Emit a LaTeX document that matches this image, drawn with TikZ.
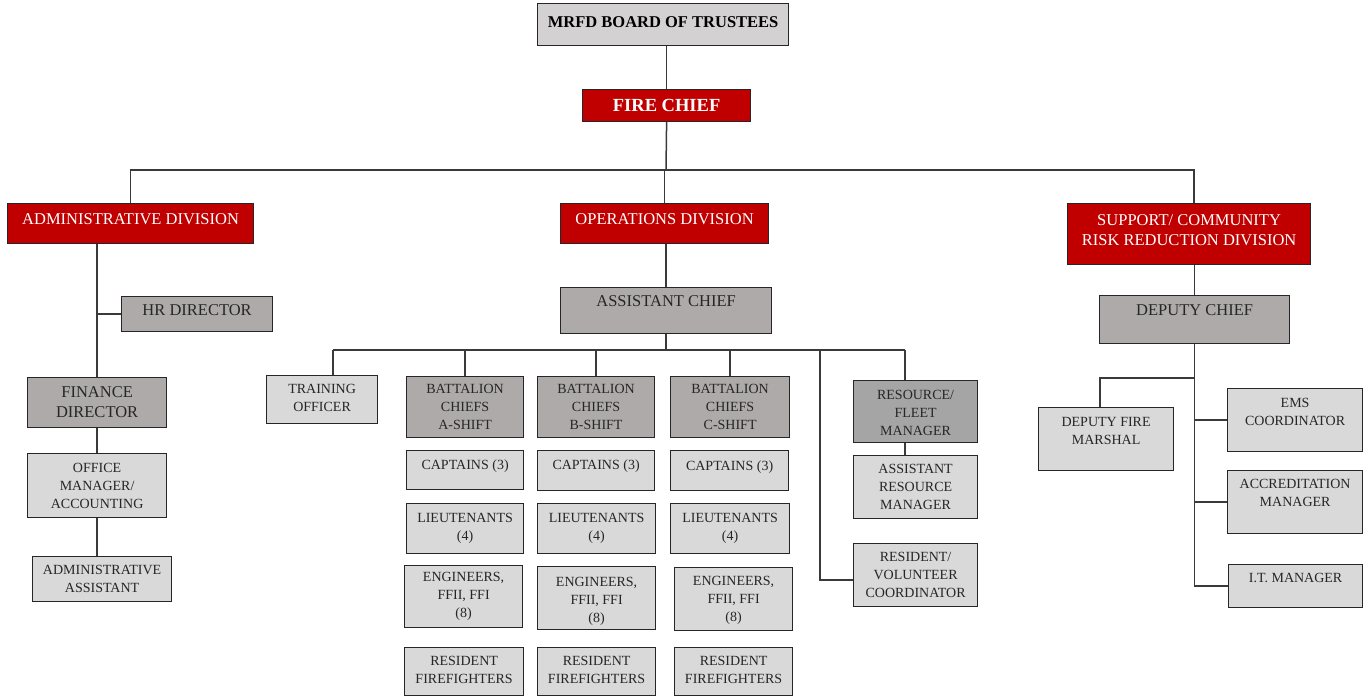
\documentclass[tikz,border=0pt]{standalone}
\usepackage{fontspec}
\setmainfont{Liberation Serif}
\usepackage{tikz}
\definecolor{firered}{HTML}{C00000}
\definecolor{palegray}{HTML}{D9D9D9}
\definecolor{titlegray}{HTML}{D3D1D1}
\definecolor{midgray}{HTML}{AEAAAA}
\definecolor{deepgray}{HTML}{A5A5A5}
\definecolor{inkgray}{HTML}{262626}
\definecolor{wiregray}{HTML}{3A3A3A}
\tikzset{
% Box styles for the chart: red, mid gray and pale gray
% (last argument of boxat = baseline of the last text line)
org box/.style={draw=inkgray,line width=1.2pt,anchor=north west,inner xsep=2pt,inner ysep=0pt,align=center,text=inkgray},
boxat/.style n args={5}{at={(#1,#2)},minimum width={#3-#1},text height={#5-#2},text depth={#4-#5}},
red box/.style={org box,fill=firered,text=white,font=\fontsize{16.5}{20.5}\selectfont},
mid box/.style={org box,fill=midgray,font=\fontsize{16.5}{20.5}\selectfont},
shift box/.style={org box,fill=midgray,font=\fontsize{14}{18}\selectfont},
pale box/.style={org box,fill=palegray,font=\fontsize{14}{18}\selectfont},
chart line/.style={draw=wiregray,line width=1.5pt}
}
\begin{document}
\begin{tikzpicture}[x=1pt,y=-1pt]
\useasboundingbox (0,0) rectangle (1364,696);
% Top of the chart
\node (board)[org box,fill=titlegray,font=\bfseries\fontsize{16.5}{20}\selectfont,text=black,boxat={537}{3}{788}{45}{27}]{MRFD BOARD OF TRUSTEES};
\node (chief)[red box,font=\bfseries\fontsize{18.5}{22}\selectfont,boxat={582}{89}{750}{121}{111}]{FIRE CHIEF};
% Divisions
\node (admin)[red box,boxat={7}{203}{253}{243}{224}]{ADMINISTRATIVE DIVISION};
\node (ops)[red box,boxat={560}{203}{768}{243}{224}]{OPERATIONS DIVISION};
\node (support)[red box,boxat={1067}{203}{1310}{264}{245}]{SUPPORT/ COMMUNITY\\RISK REDUCTION DIVISION};
% Administrative side
\node (hr)[mid box,boxat={121}{296}{272}{331}{315}]{HR DIRECTOR};
\node (finance)[mid box,boxat={27}{377}{166}{427}{417}]{FINANCE\\DIRECTOR};
\node (office)[pale box,boxat={27}{453}{166}{517}{508}]{OFFICE\\MANAGER/\\ACCOUNTING};
\node (assist)[pale box,boxat={32}{556}{171}{601}{592}]{ADMINISTRATIVE\\ASSISTANT};
% Operations side
\node (asstchief)[mid box,boxat={560}{287}{771}{333}{306}]{ASSISTANT CHIEF};
\node (training)[pale box,boxat={266}{375}{377}{423}{411}]{TRAINING\\OFFICER};
\node (batA)[shift box,boxat={406}{376}{523}{437}{429}]{BATTALION\\CHIEFS\\A-SHIFT};
\node (batB)[shift box,boxat={537}{376}{654}{437}{429}]{BATTALION\\CHIEFS\\B-SHIFT};
\node (batC)[shift box,boxat={670}{376}{789}{437}{429}]{BATTALION\\CHIEFS\\C-SHIFT};
\node (capA)[pale box,boxat={406}{450}{523}{489}{469}]{CAPTAINS (3)};
\node (capB)[pale box,boxat={537}{450}{654}{490}{469}]{CAPTAINS (3)};
\node (capC)[pale box,boxat={670}{450}{788}{490}{470}]{CAPTAINS (3)};
\node (ltA)[pale box,boxat={406}{503}{523}{553}{540}]{LIEUTENANTS\\(4)};
\node (ltB)[pale box,boxat={537}{503}{655}{553}{540}]{LIEUTENANTS\\(4)};
\node (ltC)[pale box,boxat={670}{503}{789}{553}{540}]{LIEUTENANTS\\(4)};
\node (engA)[pale box,boxat={404}{565}{522}{627}{617}]{ENGINEERS,\\FFII, FFI\\(8)};
\node (engB)[pale box,boxat={537}{566}{655}{629}{622}]{ENGINEERS,\\FFII, FFI\\(8)};
\node (engC)[pale box,boxat={674}{567}{792}{630}{621}]{ENGINEERS,\\FFII, FFI\\(8)};
\node (rffA)[pale box,boxat={404}{647}{523}{695}{683}]{RESIDENT\\FIREFIGHTERS};
\node (rffB)[pale box,boxat={537}{647}{655}{695}{683}]{RESIDENT\\FIREFIGHTERS};
\node (rffC)[pale box,boxat={674}{647}{792}{695}{683}]{RESIDENT\\FIREFIGHTERS};
\node (resource)[shift box,fill=deepgray,boxat={853}{380}{977}{442}{435}]{RESOURCE/\\FLEET\\MANAGER};
\node (asstres)[pale box,boxat={853}{455}{977}{518}{509}]{ASSISTANT\\RESOURCE\\MANAGER};
\node (resvol)[pale box,boxat={853}{543}{977}{606}{597}]{RESIDENT/\\VOLUNTEER\\COORDINATOR};
% Support side
\node (deputy)[mid box,boxat={1099}{295}{1289}{343}{315}]{DEPUTY CHIEF};
\node (marshal)[pale box,boxat={1038}{407}{1173}{470}{444}]{DEPUTY FIRE\\MARSHAL};
\node (ems)[pale box,boxat={1227}{388}{1362}{451}{425}]{EMS\\COORDINATOR};
\node (accred)[pale box,boxat={1227}{470}{1362}{533}{506}]{ACCREDITATION\\MANAGER};
\node (itmgr)[pale box,boxat={1228}{564}{1362}{607}{582}]{I.T. MANAGER};
% Connectors
\coordinate (topbus) at (666,170);
\draw[chart line] (chief.north) -- (chief.north |- board.south);
\draw[chart line] (chief.south) -- (topbus);
\draw[chart line] (admin.north) |- (topbus) -| ([xshift=5pt]support.north);
\draw[chart line] (ops.north) -- (ops.north |- topbus);
\draw[chart line] (finance.north) -- (finance.north |- admin.south);
\draw[chart line] (hr.west) -- (hr.west -| finance.north);
\draw[chart line] (finance.south) -- (office.north);
\draw[chart line] (office.south) -- (office.south |- assist.north);
\coordinate (opsbusL) at (333,350);
\coordinate (opsbusR) at (905,350);
\coordinate (volturn) at (820,350);
\draw[chart line] (asstchief.north) -- (asstchief.north |- ops.south);
\draw[chart line] (asstchief.south) -- (asstchief.south |- opsbusL);
\draw[chart line] (opsbusL) -- (opsbusR);
\draw[chart line] (opsbusL) -- (opsbusL |- training.north);
\foreach \b in {batA,batB,batC}
  \draw[chart line] (\b.north) -- (\b.north |- opsbusL);
\draw[chart line] (opsbusR) -- (opsbusR |- resource.north);
\draw[chart line] (resource.south -| opsbusR) -- (opsbusR |- asstres.north);
\draw[chart line] (volturn) |- ([yshift=-5pt]resvol.west);
\draw[chart line] (deputy.north) -- (deputy.north |- support.south);
\draw[chart line] (deputy.south) |- (itmgr.west);
\foreach \n in {ems,accred}
  \draw[chart line] (\n.west) -- (\n.west -| deputy.south);
\draw[chart line] ([xshift=-6pt]marshal.north) |- ([yshift=-34pt]deputy.south);
\end{tikzpicture}
\end{document}
